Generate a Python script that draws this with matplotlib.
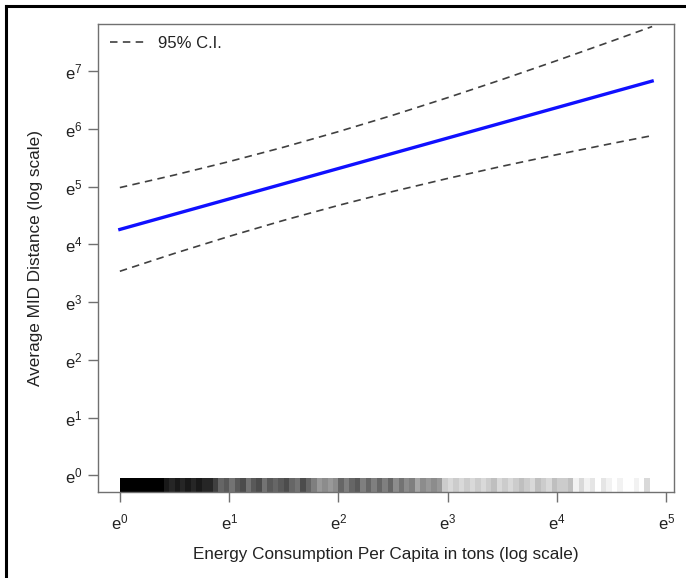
import numpy as np
import matplotlib
matplotlib.use("Agg")
import matplotlib.pyplot as plt
from matplotlib.lines import Line2D
import matplotlib.transforms as mtransforms

plt.rcParams['font.family'] = ['Liberation Sans', 'DejaVu Sans']
plt.rcParams['mathtext.fontset'] = 'custom'
plt.rcParams['mathtext.rm'] = 'Liberation Sans'

# --- data (log scale units) ---
x_pts = [0.0, 0.5, 1.0, 1.5, 2.0, 2.5, 3.0, 3.5, 4.0, 4.5, 4.87]
fit = [4.26, 4.524, 4.788, 5.052, 5.316, 5.58, 5.844, 6.108, 6.372, 6.636, 6.831]
upper = [4.985, 5.203, 5.436, 5.686, 5.955, 6.241, 6.544, 6.860, 7.187, 7.523, 7.776]
lower = [3.535, 3.845, 4.140, 4.418, 4.677, 4.919, 5.144, 5.356, 5.557, 5.749, 5.886]

# rug darkness per 0.05 bin of x, from 0.00 to 4.80
rug_shade = [1.0, 1.0, 1.0, 1.0, 1.0, 1.0, 1.0, 1.0,
             0.9, 0.85, 0.9, 0.85, 0.9, 0.85, 0.9, 0.85, 0.85, 0.75,
             0.6, 0.65, 0.55, 0.65, 0.7, 0.55, 0.65, 0.7, 0.55, 0.65, 0.6, 0.65, 0.7, 0.6, 0.55, 0.7, 0.6, 0.5,
             0.4, 0.45, 0.4, 0.45,
             0.6, 0.5, 0.6, 0.65, 0.5, 0.6, 0.5, 0.6, 0.5, 0.6, 0.45, 0.55, 0.45, 0.5,
             0.35, 0.45, 0.4, 0.45, 0.4,
             0.2, 0.15, 0.2, 0.15, 0.2, 0.15, 0.2, 0.15, 0.2,
             0.25, 0.15, 0.2, 0.15, 0.2, 0.25, 0.2, 0.15, 0.25, 0.2, 0.15, 0.25, 0.2, 0.2, 0.25,
             0.05, 0.15, 0.05, 0.1, 0.0, 0.1, 0.05, 0.0, 0.05, 0.0, 0.0, 0.05, 0.0, 0.15]
rug_x = np.round(np.arange(len(rug_shade)) * 0.05, 2)

x_ticks = [0, 1, 2, 3, 4, 5]
y_ticks = [0, 1, 2, 3, 4, 5, 6, 7]

fig = plt.figure(figsize=(6.86, 5.78), dpi=100)
ax = fig.add_axes([98/686, 1 - 492/578, (674-98)/686, (492-24)/578])

axis_gray = '#707070'

ax.plot(x_pts, upper, color='#404040', lw=1.2, ls=(0, (4.5, 3.2)), label='95% C.I.')
ax.plot(x_pts, lower, color='#404040', lw=1.2, ls=(0, (4.5, 3.2)))
ax.plot(x_pts, fit, color='#1010ff', lw=2.4)

trans = mtransforms.blended_transform_factory(ax.transData, ax.transAxes)
for xv, s in zip(rug_x, rug_shade):
    if s > 0:
        ax.add_patch(plt.Rectangle((xv, 0), 0.05, 0.03, transform=trans,
                                   facecolor='black', alpha=s, lw=0))

ax.set_xlim(-0.2, 5.07)
ax.set_ylim(-0.29, 7.82)
ax.set_xticks(x_ticks)
ax.set_xticklabels([r'$\mathregular{e^{%d}}$' % t for t in x_ticks])
ax.set_yticks(y_ticks)
ax.set_yticklabels([r'$\mathregular{e^{%d}}$' % t for t in y_ticks])
ax.tick_params(direction='out', length=7, width=1.0, color=axis_gray,
               labelsize=12, labelcolor='#222222')
ax.tick_params(axis='x', pad=8)
ax.tick_params(axis='y', pad=4)
for sp in ax.spines.values():
    sp.set_color(axis_gray)
    sp.set_linewidth(1.0)

ax.set_xlabel('Energy Consumption Per Capita in tons (log scale)', fontsize=12.3,
              color='#222222', labelpad=10)
ax.set_ylabel('Average MID Distance (log scale)', fontsize=12.3, color='#222222',
              labelpad=16)

ax.legend(loc='upper left', frameon=False, fontsize=12, handlelength=2.3,
          handletextpad=0.6, borderaxespad=0.3, labelcolor='#222222')

# outer frame
fig.add_artist(Line2D([5.5/686, 5.5/686], [0, 1 - 5.5/578], color='black', lw=2.2,
                      transform=fig.transFigure))
fig.add_artist(Line2D([5.5/686, 1], [1 - 5.5/578, 1 - 5.5/578], color='black', lw=2.2,
                      transform=fig.transFigure))

fig.savefig('out.png', dpi=100)
